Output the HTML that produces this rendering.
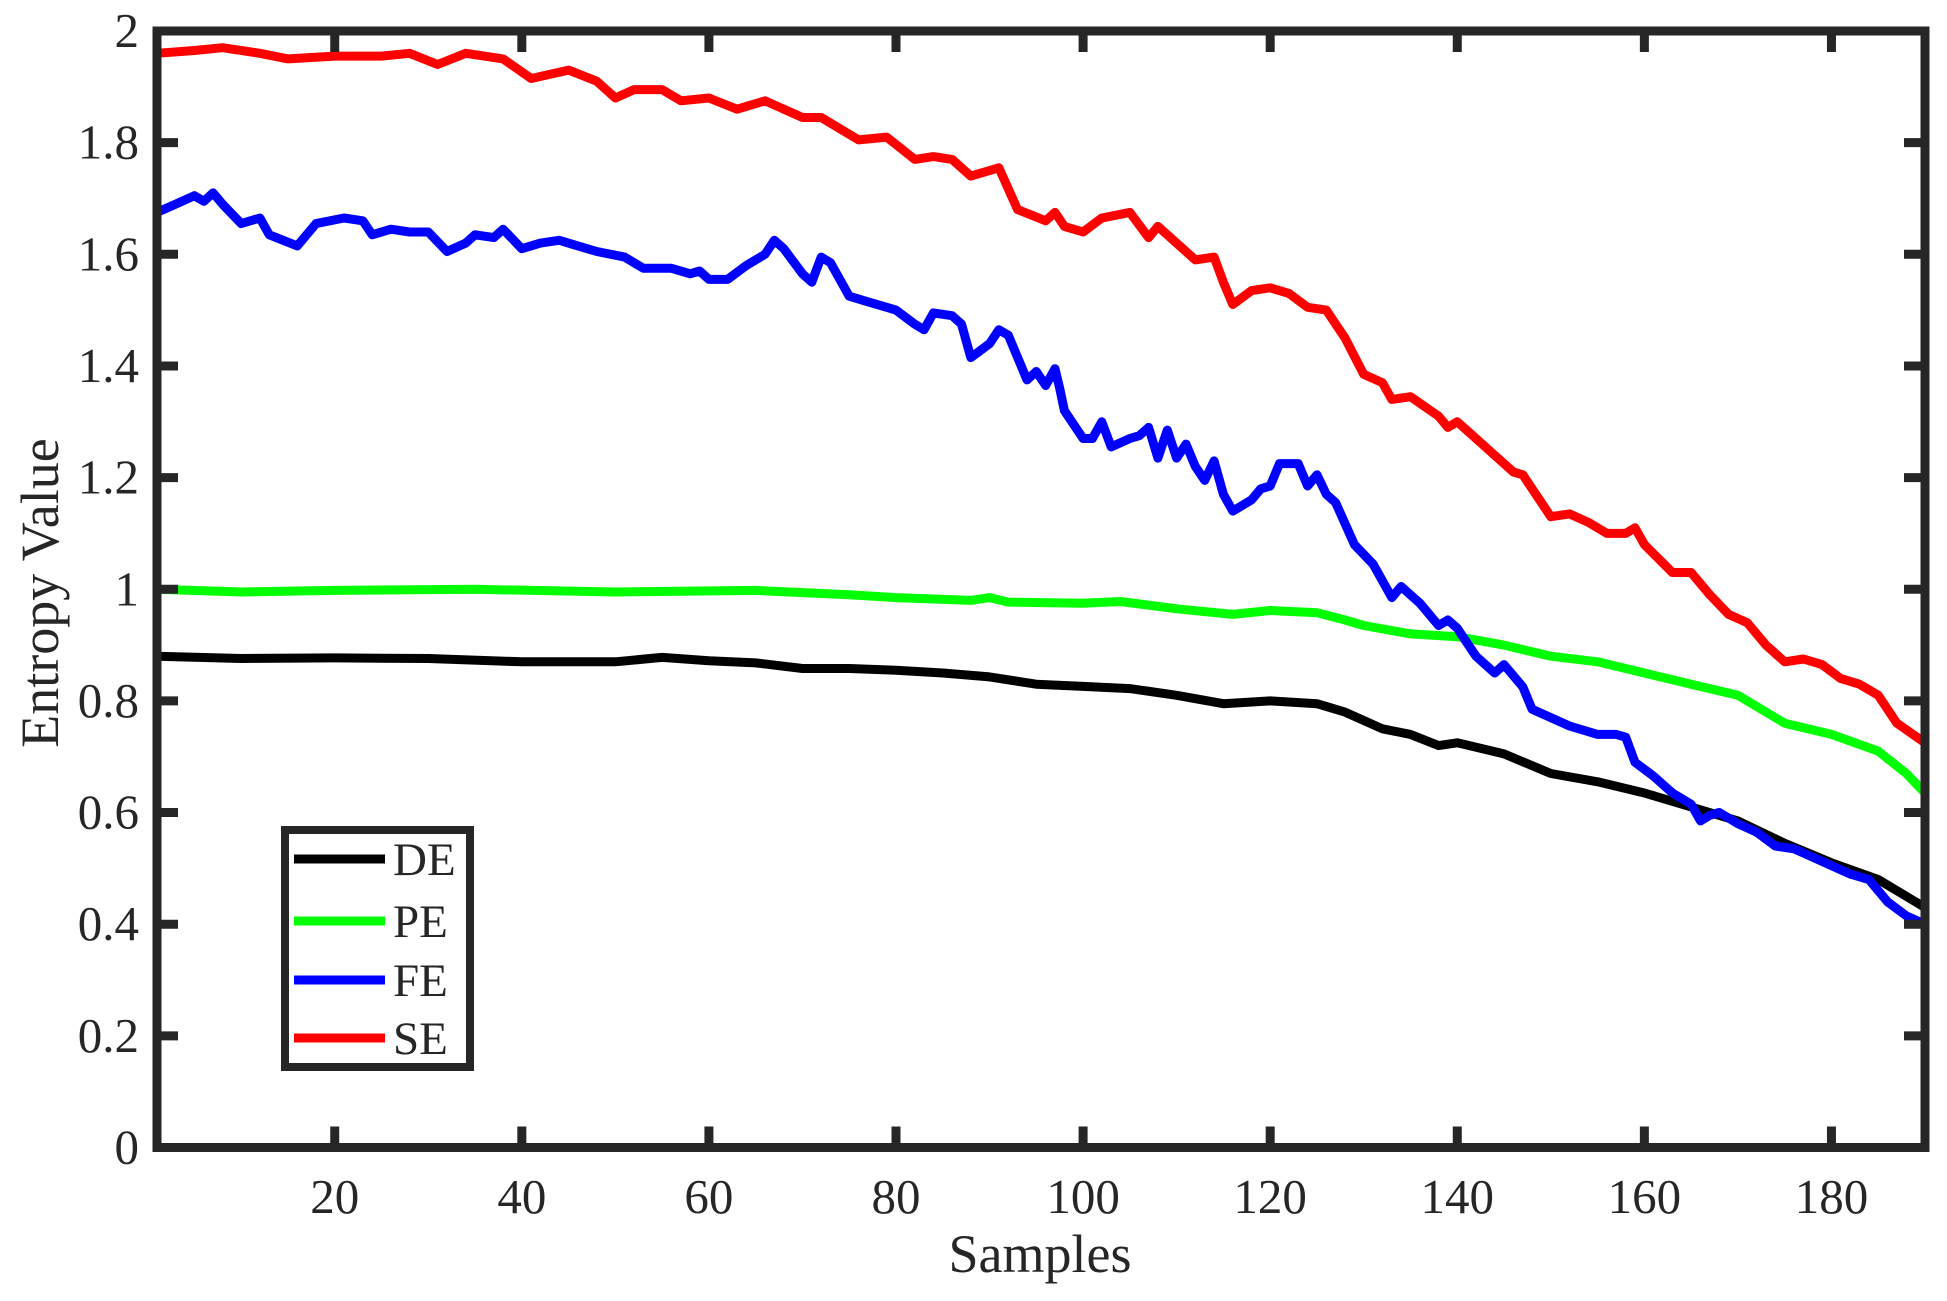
<!DOCTYPE html>
<html><head><meta charset="utf-8"><style>
html,body{margin:0;padding:0;background:#fff;}
svg{display:block;}
text{font-family:"Liberation Serif",serif;fill:#262626;}
</style></head><body>
<svg id="s" width="1947" height="1301" xmlns="http://www.w3.org/2000/svg"></svg>
<script>
const X0=157,X1=1925,Y0=1147.5,Y1=31;
const xs=s=>X0+(s-1)*(X1-X0)/189, ys=v=>Y0-v*(Y0-Y1)/2;
const S=document.getElementById('s');let h='';
const P=a=>{let p=[];for(let i=0;i<a.length;i+=2)p.push(xs(a[i]).toFixed(1)+','+ys(a[i+1]).toFixed(1));return p.join(' ');};
const DE=[1,.88,10,.876,20,.877,30,.876,40,.87,50,.87,55,.878,60,.872,65,.868,70,.858,75,.858,80,.855,85,.85,90,.843,95,.83,100,.826,105,.822,110,.81,115,.795,120,.8,125,.795,128,.78,132,.75,135,.74,138,.72,140,.725,145,.705,150,.67,155,.655,160,.635,165,.61,170,.585,175,.545,180,.51,185,.48,188,.45,190,.43];
const PE=[1,1,10,.995,20,.998,35,1,50,.995,65,.998,75,.99,80,.985,88,.98,90,.985,92,.977,100,.975,104,.978,110,.965,116,.955,120,.962,125,.958,128,.945,130,.935,135,.92,140,.915,145,.9,150,.88,155,.87,160,.85,165,.83,170,.81,175,.76,180,.74,185,.71,188,.67,190,.635];
const FE=[1,1.675,3,1.69,5,1.705,6,1.695,7,1.71,8,1.69,10,1.655,12,1.665,13,1.635,16,1.615,18,1.655,21,1.665,23,1.66,24,1.635,26,1.645,28,1.64,30,1.64,32,1.605,34,1.62,35,1.635,37,1.63,38,1.645,40,1.61,42,1.62,44,1.625,46,1.615,48,1.605,51,1.595,53,1.575,56,1.575,58,1.565,59,1.57,60,1.555,62,1.555,64,1.58,66,1.6,67,1.625,68,1.61,70,1.565,71,1.55,72,1.595,73,1.585,75,1.525,77,1.515,79,1.505,80,1.5,82,1.475,83,1.465,84,1.495,86,1.49,87,1.475,88,1.415,90,1.44,91,1.465,92,1.455,94,1.375,95,1.39,96,1.365,97,1.395,97.5,1.36,98,1.32,100,1.27,101,1.27,102,1.3,103,1.255,105,1.27,106,1.275,107,1.29,108,1.235,109,1.285,110,1.235,111,1.26,112,1.22,113,1.195,114,1.23,115,1.17,116,1.14,118,1.16,119,1.18,120,1.185,121,1.225,123,1.225,124,1.185,125,1.205,126,1.17,127,1.155,129,1.08,131,1.045,133,.985,134,1.005,136,.975,138,.935,139,.945,140,.93,141,.905,142,.88,144,.85,145,.865,147,.825,148,.785,150,.77,152,.755,155,.74,157,.74,158,.735,159,.69,161,.665,163,.635,165,.615,166,.585,167,.595,168,.6,170,.58,172,.565,174,.54,176,.535,178,.52,180,.505,182,.49,184,.48,186,.44,188,.415,190,.4];
const SE=[1,1.96,5,1.965,8,1.97,12,1.96,15,1.95,20,1.955,25,1.955,28,1.96,31,1.94,34,1.96,38,1.95,41,1.915,45,1.93,48,1.91,50,1.88,52,1.895,55,1.895,57,1.875,60,1.88,63,1.86,66,1.875,70,1.845,72,1.845,76,1.805,79,1.81,82,1.77,84,1.775,86,1.77,88,1.74,91,1.755,93,1.68,96,1.66,97,1.675,98,1.65,100,1.64,102,1.665,105,1.675,107,1.63,108,1.65,110,1.62,112,1.59,114,1.595,115,1.55,116,1.51,118,1.535,120,1.54,122,1.53,124,1.505,126,1.5,128,1.45,130,1.385,132,1.37,133,1.34,135,1.345,138,1.31,139,1.29,140,1.3,142,1.27,144,1.24,146,1.21,147,1.205,150,1.13,152,1.135,154,1.12,156,1.1,158,1.1,159,1.11,160,1.08,163,1.03,165,1.03,167,.99,169,.955,171,.94,173,.9,175,.87,177,.875,179,.865,181,.84,183,.83,185,.81,187,.76,190,.725];
[[DE,'#000'],[PE,'#00ff00'],[FE,'#0000ff'],[SE,'#ff0000']].forEach(([d,c])=>{h+=`<polyline points="${P(d)}" fill="none" stroke="${c}" stroke-width="9" stroke-linejoin="round"/>`;});
h+=`<rect x="${X0}" y="${Y1}" width="${X1-X0}" height="${Y0-Y1}" fill="none" stroke="#262626" stroke-width="9"/>`;
for(let v=0;v<=2.001;v+=0.2){const y=ys(v);h+=`<line x1="${X0}" x2="${X0+21}" y1="${y}" y2="${y}" stroke="#262626" stroke-width="9"/><line x1="${X1}" x2="${X1-21}" y1="${y}" y2="${y}" stroke="#262626" stroke-width="9"/>`;
const l=Math.abs(v-Math.round(v))<1e-6?String(Math.round(v)):v.toFixed(1);h+=`<text x="139" y="${y+16}" font-size="49" text-anchor="end">${l}</text>`;}
for(let s=20;s<=180;s+=20){const x=xs(s);h+=`<line x1="${x}" x2="${x}" y1="${Y0}" y2="${Y0-21}" stroke="#262626" stroke-width="9"/><line x1="${x}" x2="${x}" y1="${Y1}" y2="${Y1+21}" stroke="#262626" stroke-width="9"/><text x="${x}" y="1213" font-size="49" text-anchor="middle">${s}</text>`;}
h+=`<text x="1040" y="1272" font-size="54" text-anchor="middle">Samples</text>`;
h+=`<text transform="translate(58,593) rotate(-90)" font-size="54" text-anchor="middle">Entropy Value</text>`;
h+=`<rect x="285" y="830" width="185" height="237" fill="#fff" stroke="#262626" stroke-width="8"/>`;
[['DE','#000',859],['PE','#00ff00',921],['FE','#0000ff',980],['SE','#ff0000',1038]].forEach(([t,c,y])=>{h+=`<line x1="294" x2="385" y1="${y}" y2="${y}" stroke="${c}" stroke-width="9"/><text x="393" y="${y+16}" font-size="47">${t}</text>`;});
S.innerHTML=h;
</script>
</body></html>
